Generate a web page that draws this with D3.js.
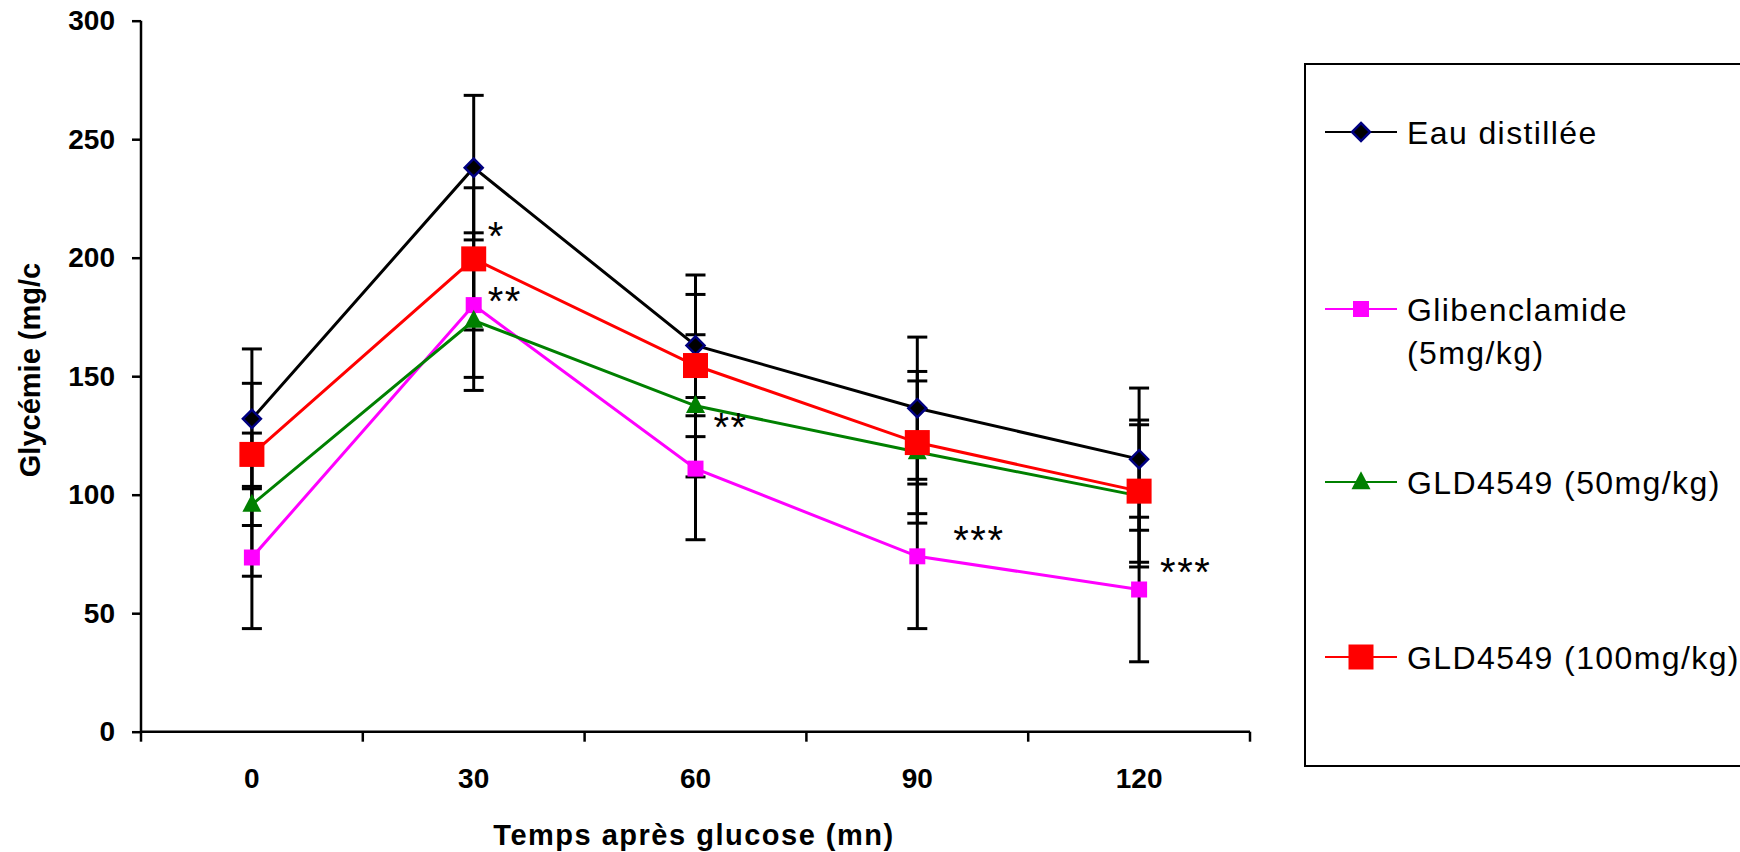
<!DOCTYPE html>
<html>
<head>
<meta charset="utf-8">
<script src="https://cdn.jsdelivr.net/npm/d3@7"></script>
<style>
  body { margin: 0; background: #fff; }
  svg { display: block; font-family: "Liberation Sans", Arial, sans-serif; }
</style>
</head>
<body>
<svg id="chart"></svg>
<script>
// data
const times = ["0", "30", "60", "90", "120"];
const yTicks = [0, 50, 100, 150, 200, 250, 300];

const eau = [132, 238, 163, 136.5, 115];
const eauErr = [29.5, 30.5, 29.7, 30, 30];
const glib = [73.5, 180, 111, 74, 60];
const glibErr = [30, 30.5, 30, 30.5, 30.5];
const gld50 = [95.8, 173.5, 137.5, 118, 99.5];
const gld50Err = [30.2, 29.5, 30, 30, 30];
const gld100 = [117, 199.5, 154.5, 122, 101.5];
const gld100Err = [30, 30, 30, 30, 30];

const seriesNames = ["Eau distillée", "Glibenclamide (5mg/kg)", "GLD4549 (50mg/kg)", "GLD4549 (100mg/kg)"];

// significance marks: [time, value where the mark sits, text]
const stars = [
  ["30", 213, "*"],
  ["30", 185.5, "**"],
  ["60", 132.5, "**"],
  ["90", 84.5, "***"],
  ["120", 71, "***"]
];

const width = 1740;
const height = 852;

const svg = d3.select("#chart")
  .attr("width", width)
  .attr("height", height);

svg.append("rect").attr("width", width).attr("height", height).attr("fill", "#fff");

const xScale = d3.scaleBand().domain(times).range([141, 1250]).padding(0);
const yScale = d3.scaleLinear().domain([0, 300]).range([731.7, 20.7]);
const cx = t => xScale(t) + xScale.bandwidth() / 2;

// marker shapes
const diamond = r => `M0,${-r}L${r},0L0,${r}L${-r},0Z`;
const square = s => `M${-s / 2},${-s / 2}h${s}v${s}h${-s}Z`;
const triangle = (w, h) => `M0,${-h * 0.6}L${w / 2},${h * 0.4}L${-w / 2},${h * 0.4}Z`;

const series = [
  { name: seriesNames[0], values: eau, err: eauErr, color: "#000000", shape: diamond(9), fill: "#000000", stroke: "#000080", sw: 2.5 },
  { name: seriesNames[1], values: glib, err: glibErr, color: "#ff00ff", shape: square(16), fill: "#ff00ff", stroke: "none", sw: 0 },
  { name: seriesNames[2], values: gld50, err: gld50Err, color: "#008000", shape: triangle(19, 18), fill: "#008000", stroke: "none", sw: 0 },
  { name: seriesNames[3], values: gld100, err: gld100Err, color: "#ff0000", shape: square(25), fill: "#ff0000", stroke: "none", sw: 0 }
];

// axes
const yAxis = d3.axisLeft(yScale).tickValues(yTicks).tickSize(9).tickPadding(17);
const gy = svg.append("g").attr("transform", "translate(141,0)").call(yAxis);
gy.select(".domain").attr("d", `M0,${yScale(300)}V${yScale(0)}`);

const xAxis = d3.axisBottom(xScale).tickSize(0).tickPadding(0);
const gx = svg.append("g").attr("transform", `translate(0,${yScale(0)})`).call(xAxis);
gx.select(".domain").attr("d", `M141,0H1250`);
gx.selectAll(".tick text").attr("y", 56).attr("dy", 0);
// boundary ticks between categories
gx.selectAll(".bound")
  .data(times.map(t => xScale(t)).concat([xScale.range()[1]]))
  .enter().append("line")
  .attr("x1", d => d).attr("x2", d => d)
  .attr("y1", 0).attr("y2", 10)
  .attr("stroke", "#000").attr("stroke-width", 2.5);

svg.selectAll(".domain, .tick line").attr("stroke", "#000").attr("stroke-width", 2.5);
svg.selectAll(".tick text")
  .attr("fill", "#000")
  .style("font-size", "28px")
  .style("font-weight", "bold")
  .style("font-family", "'Liberation Sans', Arial, sans-serif");

// axis titles
svg.append("text")
  .attr("transform", "translate(40,370) rotate(-90)")
  .attr("text-anchor", "middle")
  .style("font-size", "29px").style("font-weight", "bold")
  .text("Glycémie (mg/c");

svg.append("text")
  .attr("x", 694).attr("y", 845)
  .attr("text-anchor", "middle")
  .style("font-size", "29px").style("font-weight", "bold")
  .style("letter-spacing", "1.5px")
  .text("Temps après glucose (mn)");

// error bars
series.forEach(s => {
  const g = svg.append("g");
  times.forEach((t, i) => {
    const hi = yScale(s.values[i] + s.err[i]);
    const lo = yScale(s.values[i] - s.err[i]);
    const x = cx(t);
    g.append("line").attr("x1", x).attr("x2", x).attr("y1", hi).attr("y2", lo)
      .attr("stroke", "#000").attr("stroke-width", 3);
    [hi, lo].forEach(y => {
      g.append("line").attr("x1", x - 10).attr("x2", x + 10).attr("y1", y).attr("y2", y)
        .attr("stroke", "#000").attr("stroke-width", 3);
    });
  });
});

// lines and markers
const line = d3.line().x((d, i) => cx(times[i])).y(d => yScale(d));
series.forEach(s => {
  svg.append("path")
    .attr("d", line(s.values))
    .attr("fill", "none")
    .attr("stroke", s.color)
    .attr("stroke-width", 3);
  svg.selectAll(null)
    .data(s.values)
    .enter().append("path")
    .attr("d", s.shape)
    .attr("transform", (d, i) => `translate(${cx(times[i])},${yScale(d)})`)
    .attr("fill", s.fill)
    .attr("stroke", s.stroke)
    .attr("stroke-width", s.sw);
});

// significance stars
const starOffset = { "30": 14, "60": 18, "90": 36, "120": 21 };
svg.selectAll(".star")
  .data(stars)
  .enter().append("text")
  .attr("x", d => cx(d[0]) + starOffset[d[0]])
  .attr("y", d => yScale(d[1]) + 23)
  .style("font-size", "40px")
  .style("letter-spacing", "1.5px")
  .text(d => d[2]);

// legend
const legend = svg.append("g");
legend.append("rect")
  .attr("x", 1305).attr("y", 64)
  .attr("width", 460).attr("height", 702)
  .attr("fill", "#fff").attr("stroke", "#000").attr("stroke-width", 2);

const legendY = [132, 309, 482, 657];
const legendLines = [["Eau distillée"], ["Glibenclamide", "(5mg/kg)"], ["GLD4549 (50mg/kg)"], ["GLD4549 (100mg/kg)"]];

series.forEach((s, i) => {
  const y = legendY[i];
  legend.append("line")
    .attr("x1", 1325).attr("x2", 1397).attr("y1", y).attr("y2", y)
    .attr("stroke", s.color).attr("stroke-width", 2);
  legend.append("path")
    .attr("d", s.shape)
    .attr("transform", `translate(1361,${y})`)
    .attr("fill", s.fill).attr("stroke", s.stroke).attr("stroke-width", s.sw);
  legendLines[i].forEach((txt, k) => {
    legend.append("text")
      .attr("x", 1407).attr("y", y + 11.5 + k * 43)
      .style("font-size", "32px")
      .style("letter-spacing", "1.4px")
      .text(txt);
  });
});
</script>
</body>
</html>
